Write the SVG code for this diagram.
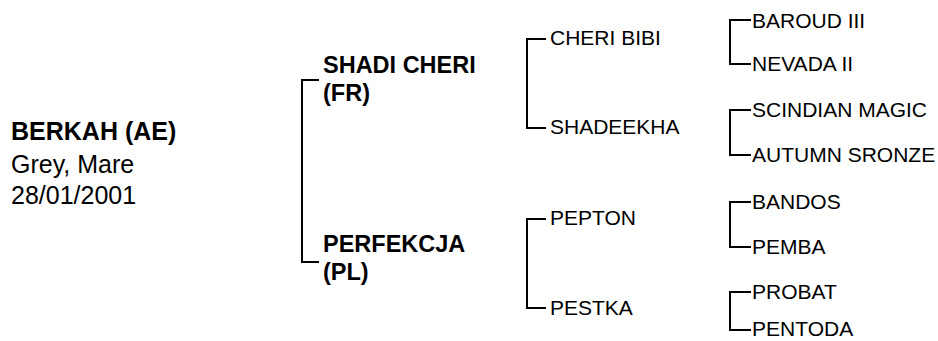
<svg xmlns="http://www.w3.org/2000/svg" width="938" height="341" viewBox="0 0 938 341">
<style>
text{font-family:"Liberation Sans",Arial,sans-serif;fill:#000}
.b{font-weight:bold}
.r0{font-size:25px}
.g1{font-size:23.5px;font-weight:bold}
.g2{font-size:21px}
.g3{font-size:21px}
.ln{fill:none;stroke:#000;stroke-width:2}
</style>
<rect width="938" height="341" fill="#fff"/>
<g id="connectors">
<path class="ln" d="M319,80 H302 V262 H319"/>
<path class="ln" d="M546,39 H527 V128 H546"/>
<path class="ln" d="M546,219 H527 V308 H546"/>
<path class="ln" d="M751,20 H730 V64 H751"/>
<path class="ln" d="M751,110 H730 V155 H751"/>
<path class="ln" d="M751,202 H730 V247 H751"/>
<path class="ln" d="M751,292 H730 V330 H751"/>
</g>
<g id="root">
<text class="r0 b" x="11" y="140">BERKAH (AE)</text>
<text class="r0" x="11" y="173">Grey, Mare</text>
<text class="r0" x="11" y="204">28/01/2001</text>
</g>
<g id="sire">
<text class="g1" x="323" y="73">SHADI CHERI</text>
<text class="g1" x="323" y="101">(FR)</text>
</g>
<g id="dam">
<text class="g1" x="323" y="252">PERFEKCJA</text>
<text class="g1" x="323" y="280">(PL)</text>
</g>
<g id="ss"><text class="g2" x="550" y="45">CHERI BIBI</text></g>
<g id="sd"><text class="g2" x="550" y="134">SHADEEKHA</text></g>
<g id="ds"><text class="g2" x="550" y="225">PEPTON</text></g>
<g id="dd"><text class="g2" x="550" y="315">PESTKA</text></g>
<g id="sss"><text class="g3" x="752" y="27.5">BAROUD III</text></g>
<g id="ssd"><text class="g3" x="752" y="71">NEVADA II</text></g>
<g id="sds"><text class="g3" x="752" y="117">SCINDIAN MAGIC</text></g>
<g id="sdd"><text class="g3" x="752" y="162">AUTUMN SRONZE</text></g>
<g id="dss"><text class="g3" x="752" y="209">BANDOS</text></g>
<g id="dsd"><text class="g3" x="752" y="254">PEMBA</text></g>
<g id="dds"><text class="g3" x="752" y="299">PROBAT</text></g>
<g id="ddd"><text class="g3" x="752" y="336">PENTODA</text></g>
</svg>
